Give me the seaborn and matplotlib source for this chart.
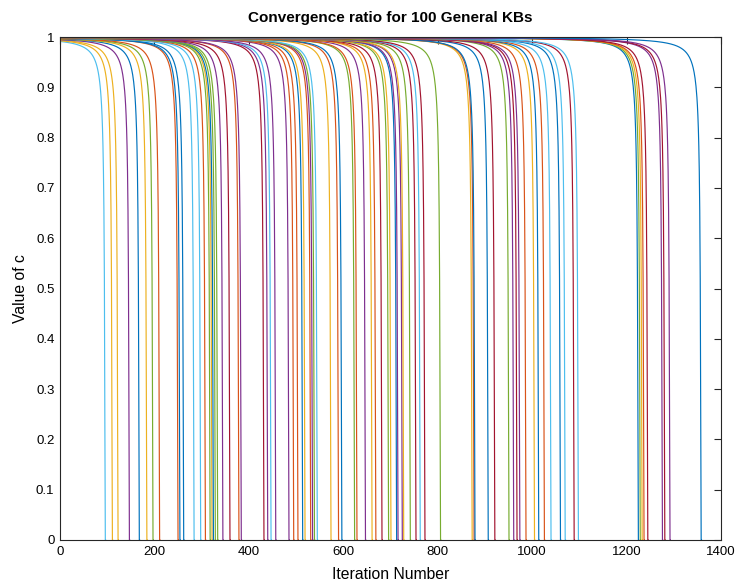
import numpy as np
import pandas as pd
import matplotlib
matplotlib.use("Agg")
import matplotlib.pyplot as plt
import seaborn as sns

# Iteration at which each KB's convergence ratio reaches 0
end_iterations = [
    97, 112, 124, 148, 169, 185, 198, 212, 251, 255, 263, 285, 299, 309, 319, 323, 326, 330, 335,
    346, 361, 380, 385, 433, 441, 448, 458, 486, 496, 505, 515, 520, 532, 536, 540, 546, 575, 591,
    598, 625, 630, 648, 662, 670, 683, 697, 702, 714, 717, 726, 729, 743, 755, 764, 774, 807,
    874, 878, 880, 908, 922, 952, 962, 969, 975, 988, 1006, 1015, 1027, 1041, 1061, 1071, 1090, 1099,
    1226, 1230, 1234, 1238, 1246, 1277, 1282, 1293, 1359,
]
# Colour code of each line (MATLAB default colour order)
line_codes = [
    "C", "Y", "Y", "P", "B", "Y", "G", "O", "O", "B", "B", "C", "C", "O", "G", "Y", "B", "G", "G",
    "P", "R", "O", "P", "R", "P", "C", "P", "P", "O", "O", "B", "Y", "O", "P", "G", "C", "Y", "O",
    "B", "G", "O", "P", "Y", "O", "R", "G", "Y", "B", "P", "P", "Y", "G", "R", "C", "R", "G",
    "Y", "O", "B", "B", "R", "G", "P", "R", "P", "O", "Y", "B", "O", "C", "B", "C", "R", "C",
    "B", "G", "Y", "O", "R", "P", "R", "P", "B",
]
matlab_colors = {
    "B": "#0072BD", "O": "#D95319", "Y": "#EDB120", "P": "#7E2F8E",
    "G": "#77AC30", "C": "#4DBEEE", "R": "#A2142F",
}
x_ticks = [0, 200, 400, 600, 800, 1000, 1200, 1400]
y_ticks = [0, 0.1, 0.2, 0.3, 0.4, 0.5, 0.6, 0.7, 0.8, 0.9, 1]

# curve shape: c(t) = 1 - A / (N - t)^P, clipped to [0, 1]
SHAPE_A, SHAPE_P = 1.7, 1.15

frames = []
for k, n in enumerate(end_iterations):
    t = np.arange(0, n + 1, dtype=float)
    rem = n - t
    with np.errstate(divide="ignore"):
        c = 1 - SHAPE_A / np.power(np.where(rem > 0, rem, 1e-9), SHAPE_P)
    c = np.clip(c, 0, 1)
    frames.append(pd.DataFrame({"iter": t, "value": c, "kb": f"KB{k}"}))
df = pd.concat(frames, ignore_index=True)
palette = {f"KB{k}": matlab_colors[code] for k, code in enumerate(line_codes)}

sns.set_style("white")
plt.rcParams["font.family"] = ["Liberation Sans", "DejaVu Sans"]
plt.rcParams["text.color"] = "black"
plt.rcParams["axes.labelcolor"] = "black"

fig = plt.figure(figsize=(7.35, 5.83), dpi=100)
ax = fig.add_axes([60 / 735, 1 - 540 / 583, (721 - 60) / 735, (540 - 37) / 583])

sns.lineplot(data=df, x="iter", y="value", hue="kb", palette=palette,
             legend=False, estimator=None, sort=False, linewidth=0.85, ax=ax)

ax.set_xlim(0, 1400)
ax.set_ylim(0, 1)
ax.set_xticks(x_ticks)
ax.set_yticks(y_ticks)
ax.set_xticklabels([f"{v:g}" for v in x_ticks])
ax.set_yticklabels([f"{v:g}" for v in y_ticks])
ax.tick_params(direction="in", top=True, right=True, length=5, width=0.8,
               labelsize=9.5, colors="#262626", labelcolor="black", pad=4)
for s in ax.spines.values():
    s.set_visible(True)
    s.set_color("#262626")
    s.set_linewidth(0.8)

ax.set_xlabel("Iteration Number", fontsize=11.3, labelpad=7, color="black")
ax.set_ylabel("Value of c", fontsize=11.3, labelpad=6, color="black")
ax.set_title("Convergence ratio for 100 General KBs", fontsize=11, fontweight="bold",
             pad=11, color="black")

fig.savefig("out.png", dpi=100)
